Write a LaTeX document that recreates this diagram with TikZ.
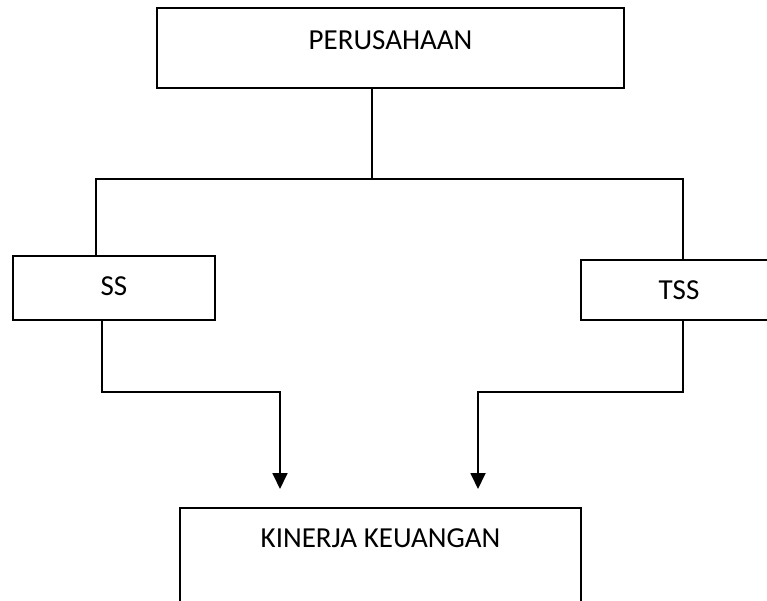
\documentclass[tikz,border=0pt]{standalone}
\usepackage{fontspec}
\setmainfont{Carlito}
\usetikzlibrary{arrows.meta}
\begin{document}
\begin{tikzpicture}[x=1pt, y=-1pt,
    box/.style={draw, rectangle, line width=1.2pt, inner sep=0pt},
    lbl/.style={anchor=north, inner sep=0pt, font=\fontsize{29}{34}\selectfont},
    conn/.style={line width=1.8pt},
    arr/.style={conn, -{Triangle[width=15pt, length=16pt]}}]
    \useasboundingbox (0,0) rectangle (767,600);
    \clip (0,0) rectangle (767,600);

    % Boxes
    \node[box, minimum width=467pt, minimum height=80pt,
          label={[lbl, yshift=-23pt]north:PERUSAHAAN}] (perusahaan) at (390.5,48) {};
    \node[box, minimum width=202pt, minimum height=64pt,
          label={[lbl, yshift=-21pt]north:SS}] (ss) at (114,288) {};
    \node[box, minimum width=196pt, minimum height=60pt,
          label={[lbl, yshift=-21pt]north:TSS}] (tss) at (679,290) {};
    \node[box, minimum width=401pt, minimum height=112pt,
          label={[lbl, yshift=-21pt]north:KINERJA KEUANGAN}] (kinerja) at (380.5,564) {};

    % Bend points
    \coordinate (split) at (372,179);
    \coordinate (ltop) at (96,179);
    \coordinate (rtop) at (683,179);
    \coordinate (lbend) at (102,392);
    \coordinate (rbend) at (683,392);
    \coordinate (ltip) at (280,489);
    \coordinate (rtip) at (478,489);

    % Connections
    \draw[conn] (split |- perusahaan.south) -- (split);
    \draw[conn] (ss.north -| ltop) -- (ltop) -- (rtop) -- (tss.north -| rtop);
    \draw[arr] (ss.south -| lbend) -- (lbend) -- (lbend -| ltip) -- (ltip);
    \draw[arr] (tss.south -| rbend) -- (rbend) -- (rbend -| rtip) -- (rtip);
\end{tikzpicture}
\end{document}
